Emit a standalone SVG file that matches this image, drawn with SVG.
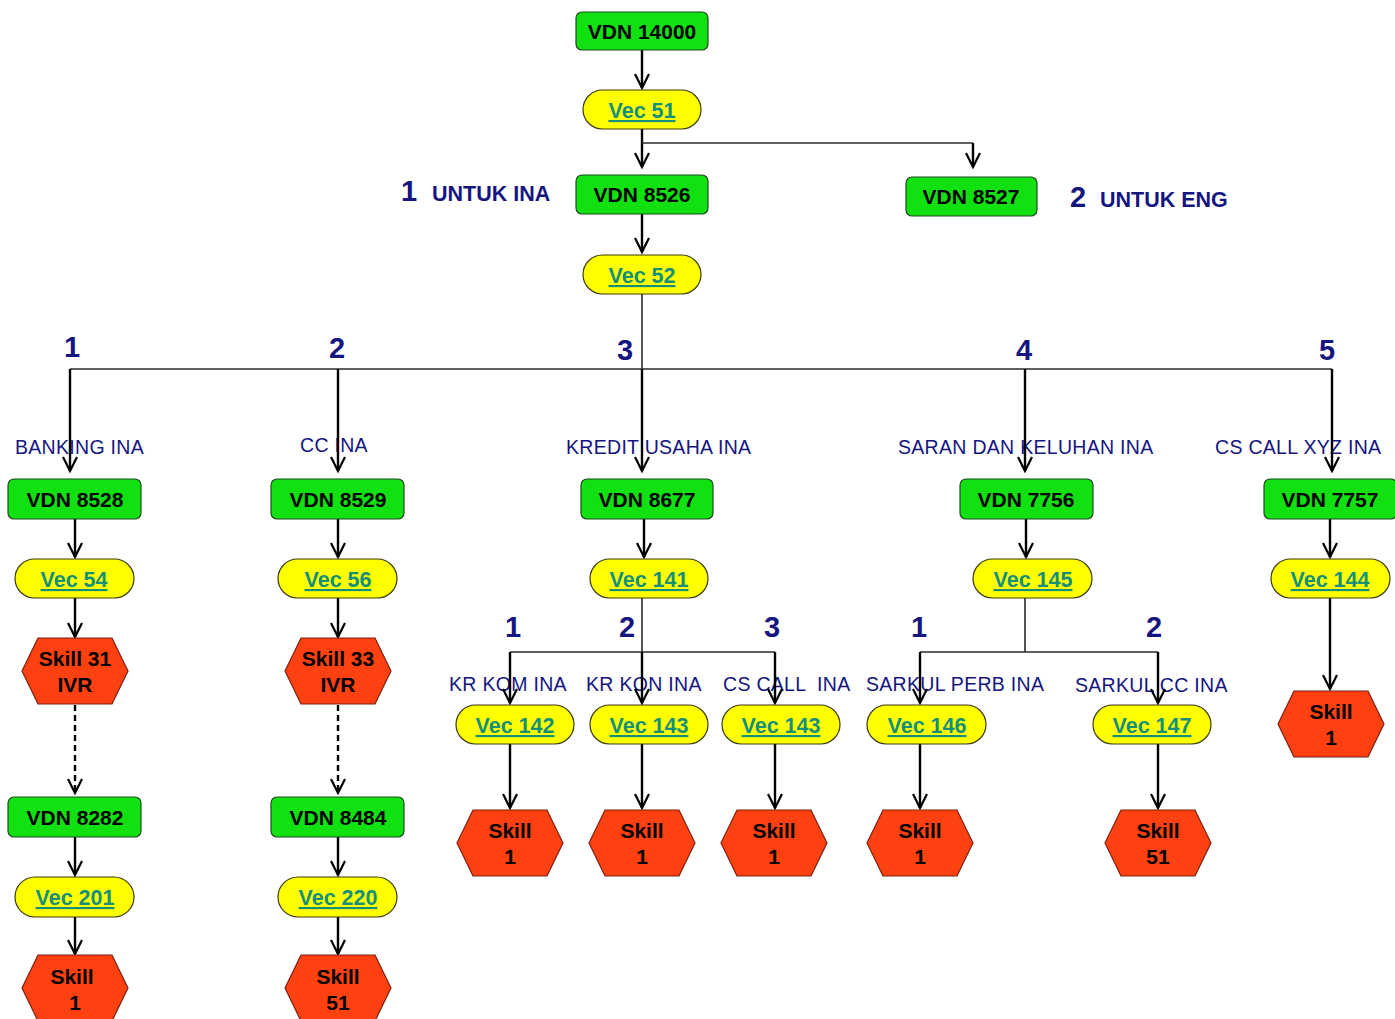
<svg xmlns="http://www.w3.org/2000/svg" xmlns:xlink="http://www.w3.org/1999/xlink" width="1395" height="1019" viewBox="0 0 1395 1019">
  <style>
    .vdn rect { fill: #11e011; stroke: #1f4a1f; stroke-width: 1.2; }
    .vdn text { font: bold 21px "Liberation Sans", Arial, sans-serif; fill: #000; text-anchor: middle; }
    .vec rect { fill: #ffff00; stroke: #3a3a10; stroke-width: 1.2; }
    .vec text { font: bold 21.5px "Liberation Sans", Arial, sans-serif; fill: #14907a; text-anchor: middle; text-decoration: underline; }
    .skill polygon { fill: #ff4010; stroke: #7a2010; stroke-width: 1.2; }
    .skill text { font: bold 21px "Liberation Sans", Arial, sans-serif; fill: #000; text-anchor: middle; }
    .num { font: bold 29px "Liberation Sans", Arial, sans-serif; fill: #15157f; text-anchor: middle; }
    .lbl { font: 19.5px "Liberation Sans", Arial, sans-serif; fill: #15157f; letter-spacing: 0.3px; }
    .opt { font: bold 21.5px "Liberation Sans", Arial, sans-serif; fill: #15157f; }
    .arrow { stroke: #000; stroke-width: 2.4; fill: none; marker-end: url(#head); }
    .dash { stroke: #000; stroke-width: 2.4; fill: none; stroke-dasharray: 6 4; marker-end: url(#head); }
    .bus { stroke: #2a2a2a; stroke-width: 1.6; fill: none; }
  </style>
  <defs>
    <marker id="head" markerUnits="userSpaceOnUse" markerWidth="18" markerHeight="18" viewBox="0 0 18 18" refX="16" refY="9" orient="auto">
      <path d="M2,2 L16,9 L2,16" fill="none" stroke="#000" stroke-width="2.2"/>
    </marker>
  </defs>

  <!-- option and branch labels -->
  <g id="labels">
    <text class="num" x="409" y="201">1</text>
    <text class="opt" x="432" y="201">UNTUK INA</text>
    <text class="num" x="1078" y="207">2</text>
    <text class="opt" x="1100" y="207">UNTUK ENG</text>

    <text class="num" x="72" y="357">1</text>
    <text class="num" x="337" y="358">2</text>
    <text class="num" x="625" y="360">3</text>
    <text class="num" x="1024" y="360">4</text>
    <text class="num" x="1327" y="360">5</text>

    <text class="lbl" x="15" y="454">BANKING INA</text>
    <text class="lbl" x="300" y="452">CC INA</text>
    <text class="lbl" x="566" y="454">KREDIT USAHA INA</text>
    <text class="lbl" x="898" y="454">SARAN DAN KELUHAN INA</text>
    <text class="lbl" x="1215" y="454">CS CALL XYZ INA</text>

    <text class="num" x="513" y="637">1</text>
    <text class="num" x="627" y="637">2</text>
    <text class="num" x="772" y="637">3</text>
    <text class="num" x="919" y="637">1</text>
    <text class="num" x="1154" y="637">2</text>

    <text class="lbl" x="449" y="691">KR KOM INA</text>
    <text class="lbl" x="586" y="691">KR KON INA</text>
    <text class="lbl" x="723" y="691" xml:space="preserve">CS CALL  INA</text>
    <text class="lbl" x="866" y="691">SARKUL PERB INA</text>
    <text class="lbl" x="1075" y="692">SARKUL CC INA</text>
  </g>

  <!-- connectors -->
  <g id="connectors">
    <path class="arrow" d="M642,50 V88"/>
    <path class="arrow" d="M642,129 V167"/>
    <path class="bus" d="M642,143 H973"/>
    <path class="arrow" d="M973,143 V167"/>
    <path class="arrow" d="M642,214 V252"/>
    <path class="bus" d="M642,294 V369"/>
    <path class="bus" d="M70,369 H1332"/>
    <path class="arrow" d="M70,369 V471"/>
    <path class="arrow" d="M338,369 V471"/>
    <path class="arrow" d="M642,369 V471"/>
    <path class="arrow" d="M1025,369 V471"/>
    <path class="arrow" d="M1332,369 V471"/>

    <path class="arrow" d="M75,519 V557"/>
    <path class="arrow" d="M338,519 V557"/>
    <path class="arrow" d="M644,519 V557"/>
    <path class="arrow" d="M1026,519 V557"/>
    <path class="arrow" d="M1330,519 V557"/>

    <path class="arrow" d="M75,598 V637"/>
    <path class="arrow" d="M338,598 V637"/>
    <path class="dash" d="M75,705 V793"/>
    <path class="dash" d="M338,705 V793"/>
    <path class="arrow" d="M75,837 V875"/>
    <path class="arrow" d="M338,837 V875"/>
    <path class="arrow" d="M75,917 V954"/>
    <path class="arrow" d="M338,917 V954"/>

    <path class="bus" d="M642,598 V652"/>
    <path class="bus" d="M510,652 H775"/>
    <path class="arrow" d="M510,652 V703"/>
    <path class="arrow" d="M642,652 V703"/>
    <path class="arrow" d="M775,652 V703"/>
    <path class="arrow" d="M510,744 V808"/>
    <path class="arrow" d="M642,744 V808"/>
    <path class="arrow" d="M775,744 V808"/>

    <path class="bus" d="M1025,598 V652"/>
    <path class="bus" d="M920,652 H1158"/>
    <path class="arrow" d="M920,652 V703"/>
    <path class="arrow" d="M1158,652 V703"/>
    <path class="arrow" d="M920,744 V808"/>
    <path class="arrow" d="M1158,744 V808"/>

    <path class="arrow" d="M1330,598 V689"/>
  </g>

  <!-- VDN nodes -->
  <g id="vdn14000" class="vdn"><rect x="576" y="12" width="132" height="38" rx="6"/><text x="642" y="39">VDN 14000</text></g>
  <g id="vdn8526" class="vdn"><rect x="576" y="175" width="132" height="39" rx="6"/><text x="642" y="202">VDN 8526</text></g>
  <g id="vdn8527" class="vdn"><rect x="906" y="177" width="131" height="39" rx="6"/><text x="971" y="204">VDN 8527</text></g>
  <g id="vdn8528" class="vdn"><rect x="8" y="479" width="133" height="40" rx="6"/><text x="75" y="507">VDN 8528</text></g>
  <g id="vdn8529" class="vdn"><rect x="271" y="479" width="133" height="40" rx="6"/><text x="338" y="507">VDN 8529</text></g>
  <g id="vdn8677" class="vdn"><rect x="581" y="479" width="132" height="40" rx="6"/><text x="647" y="507">VDN 8677</text></g>
  <g id="vdn7756" class="vdn"><rect x="960" y="479" width="133" height="40" rx="6"/><text x="1026" y="507">VDN 7756</text></g>
  <g id="vdn7757" class="vdn"><rect x="1264" y="479" width="133" height="40" rx="6"/><text x="1330" y="507">VDN 7757</text></g>
  <g id="vdn8282" class="vdn"><rect x="8" y="797" width="133" height="40" rx="6"/><text x="75" y="825">VDN 8282</text></g>
  <g id="vdn8484" class="vdn"><rect x="271" y="797" width="133" height="40" rx="6"/><text x="338" y="825">VDN 8484</text></g>

  <!-- vector nodes -->
  <g id="vec51" class="vec"><rect x="583" y="90" width="118" height="39" rx="19.5"/><text x="642" y="118">Vec 51</text></g>
  <g id="vec52" class="vec"><rect x="583" y="255" width="118" height="39" rx="19.5"/><text x="642" y="283">Vec 52</text></g>
  <g id="vec54" class="vec"><rect x="15" y="559" width="119" height="39" rx="19.5"/><text x="74" y="587">Vec 54</text></g>
  <g id="vec56" class="vec"><rect x="278" y="559" width="119" height="39" rx="19.5"/><text x="338" y="587">Vec 56</text></g>
  <g id="vec141" class="vec"><rect x="590" y="559" width="118" height="39" rx="19.5"/><text x="649" y="587">Vec 141</text></g>
  <g id="vec145" class="vec"><rect x="973" y="559" width="119" height="39" rx="19.5"/><text x="1033" y="587">Vec 145</text></g>
  <g id="vec144" class="vec"><rect x="1271" y="559" width="119" height="39" rx="19.5"/><text x="1330" y="587">Vec 144</text></g>
  <g id="vec142" class="vec"><rect x="456" y="705" width="118" height="39" rx="19.5"/><text x="515" y="733">Vec 142</text></g>
  <g id="vec143a" class="vec"><rect x="590" y="705" width="118" height="39" rx="19.5"/><text x="649" y="733">Vec 143</text></g>
  <g id="vec143b" class="vec"><rect x="722" y="705" width="118" height="39" rx="19.5"/><text x="781" y="733">Vec 143</text></g>
  <g id="vec146" class="vec"><rect x="867" y="705" width="119" height="39" rx="19.5"/><text x="927" y="733">Vec 146</text></g>
  <g id="vec147" class="vec"><rect x="1093" y="705" width="118" height="39" rx="19.5"/><text x="1152" y="733">Vec 147</text></g>
  <g id="vec201" class="vec"><rect x="15" y="877" width="119" height="40" rx="20"/><text x="75" y="905">Vec 201</text></g>
  <g id="vec220" class="vec"><rect x="278" y="877" width="119" height="40" rx="20"/><text x="338" y="905">Vec 220</text></g>

  <!-- skill nodes -->
  <g id="skill31" class="skill" transform="translate(75,671)"><polygon points="-53,0 -37,-33 37,-33 53,0 37,33 -37,33"/><text x="0" y="-5">Skill 31</text><text x="0" y="21">IVR</text></g>
  <g id="skill33" class="skill" transform="translate(338,671)"><polygon points="-53,0 -37,-33 37,-33 53,0 37,33 -37,33"/><text x="0" y="-5">Skill 33</text><text x="0" y="21">IVR</text></g>
  <g id="skill1a" class="skill" transform="translate(75,988)"><polygon points="-53,0 -37,-33 37,-33 53,0 37,33 -37,33"/><text x="-3" y="-4">Skill</text><text x="0" y="22">1</text></g>
  <g id="skill51a" class="skill" transform="translate(338,988)"><polygon points="-53,0 -37,-33 37,-33 53,0 37,33 -37,33"/><text x="0" y="-4">Skill</text><text x="0" y="22">51</text></g>
  <g id="skill1b" class="skill" transform="translate(510,843)"><polygon points="-53,0 -37,-33 37,-33 53,0 37,33 -37,33"/><text x="0" y="-5">Skill</text><text x="0" y="21">1</text></g>
  <g id="skill1c" class="skill" transform="translate(642,843)"><polygon points="-53,0 -37,-33 37,-33 53,0 37,33 -37,33"/><text x="0" y="-5">Skill</text><text x="0" y="21">1</text></g>
  <g id="skill1d" class="skill" transform="translate(774,843)"><polygon points="-53,0 -37,-33 37,-33 53,0 37,33 -37,33"/><text x="0" y="-5">Skill</text><text x="0" y="21">1</text></g>
  <g id="skill1e" class="skill" transform="translate(920,843)"><polygon points="-53,0 -37,-33 37,-33 53,0 37,33 -37,33"/><text x="0" y="-5">Skill</text><text x="0" y="21">1</text></g>
  <g id="skill51b" class="skill" transform="translate(1158,843)"><polygon points="-53,0 -37,-33 37,-33 53,0 37,33 -37,33"/><text x="0" y="-5">Skill</text><text x="0" y="21">51</text></g>
  <g id="skill1f" class="skill" transform="translate(1331,724)"><polygon points="-53,0 -37,-33 37,-33 53,0 37,33 -37,33"/><text x="0" y="-5">Skill</text><text x="0" y="21">1</text></g>
</svg>
